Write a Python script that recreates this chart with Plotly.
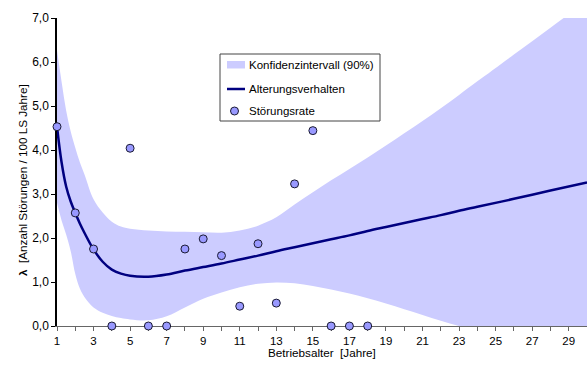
import plotly.graph_objects as go

# ---- data ----
ages = [1, 2, 3, 4, 5, 6, 7, 8, 9, 10, 11, 12, 13, 14, 15, 16, 17, 18]
rates = [4.53, 2.57, 1.75, 0.0, 4.04, 0.0, 0.0, 1.75, 1.98, 1.60, 0.45, 1.87, 0.52, 3.23, 4.44, 0.0, 0.0, 0.0]

grid = [1, 1.25, 1.5, 1.75, 2, 2.25, 2.5, 3, 3.5, 4, 4.5, 5, 6, 7, 8, 9, 10, 11, 12, 13, 14,
        15, 16, 17, 18, 19, 20, 21, 22, 23, 24, 26, 28, 30]
trend = [4.53, 3.72, 3.17, 2.83, 2.57, 2.33, 2.12, 1.74, 1.46, 1.28, 1.19, 1.14, 1.12, 1.17, 1.26, 1.34, 1.42,
         1.51, 1.60, 1.70, 1.79, 1.88, 1.97, 2.06, 2.16, 2.25, 2.34, 2.43, 2.52, 2.62, 2.71, 2.89, 3.08, 3.26]
upper = [6.27, 5.55, 4.90, 4.42, 4.05, 3.72, 3.45, 2.88, 2.58, 2.37, 2.26, 2.21, 2.17, 2.15, 2.14, 2.13, 2.12,
         2.17, 2.28, 2.47, 2.76, 3.04, 3.31, 3.57, 3.83, 4.10, 4.38, 4.66, 4.95, 5.25, 5.56, 6.17, 6.78, 7.39]
lower = [2.80, 2.40, 2.08, 1.70, 1.18, 0.85, 0.66, 0.42, 0.30, 0.23, 0.18, 0.15, 0.13, 0.22, 0.42, 0.62, 0.76,
         0.88, 0.96, 0.99, 0.97, 0.91, 0.83, 0.74, 0.63, 0.51, 0.38, 0.25, 0.12, 0.00, -0.13, -0.40, -0.67, -0.94]

x_ticks = list(range(1, 30, 2))
y_ticks = [0, 1, 2, 3, 4, 5, 6, 7]

BAND = "#CCCCFF"
LINE = "#000080"
DOT = "#9999FF"
FONT = "Liberation Sans, Arial, sans-serif"

fig = go.Figure()
fig.add_trace(go.Scatter(x=grid, y=upper, mode="lines", line=dict(width=0, shape="spline"),
                         showlegend=False, hoverinfo="skip"))
fig.add_trace(go.Scatter(x=grid, y=lower, mode="lines", line=dict(width=0, shape="spline"),
                         fill="tonexty", fillcolor=BAND, name="Konfidenzintervall (90%)",
                         showlegend=False, hoverinfo="skip"))
fig.add_trace(go.Scatter(x=grid, y=trend, mode="lines", line=dict(color=LINE, width=2.5, shape="spline"),
                         name="Alterungsverhalten", showlegend=False))
fig.add_trace(go.Scatter(x=ages, y=rates, mode="markers", cliponaxis=False,
                         marker=dict(size=8, color=DOT, line=dict(color="#1a1a33", width=1)),
                         name="Störungsrate", showlegend=False))

W, H = 587, 369
L, R, T, B = 57, 0, 18, 43
pw, ph = W - L - R, H - T - B


def px(xp):
    return (xp - L) / pw


def py(yp):
    return (H - B - yp) / ph


shapes = []
annotations = []
# legend box drawn by hand to match the reference layout
shapes.append(dict(type="rect", xref="paper", yref="paper", x0=px(220), x1=px(380), y0=py(121), y1=py(54),
                   line=dict(color="#444444", width=1), fillcolor="white", layer="above"))
shapes.append(dict(type="rect", xref="paper", yref="paper", x0=px(227), x1=px(245), y0=py(68.5), y1=py(61),
                   line=dict(width=0), fillcolor=BAND, layer="above"))
shapes.append(dict(type="line", xref="paper", yref="paper", x0=px(227), x1=px(245), y0=py(89), y1=py(89),
                   line=dict(color=LINE, width=2.5), layer="above"))
shapes.append(dict(type="circle", xref="paper", yref="paper", x0=px(230.5), x1=px(238.5), y0=py(115), y1=py(107),
                   line=dict(color="#1a1a33", width=1), fillcolor=DOT, layer="above"))
for label, yy in [("Konfidenzintervall (90%)", 65), ("Alterungsverhalten", 89), ("Störungsrate", 111)]:
    annotations.append(dict(text=label, xref="paper", yref="paper", x=px(247), y=py(yy), xanchor="left",
                            yanchor="middle", showarrow=False, font=dict(size=11.5, color="#000", family=FONT)))

annotations.append(dict(text="<b>λ</b>\u00a0 [Anzahl Störungen / 100 LS Jahre]", xref="paper", yref="paper",
                        x=px(22), y=py(180), textangle=-90, xanchor="center", yanchor="middle",
                        showarrow=False, font=dict(size=11.7, color="#000", family=FONT)))
annotations.append(dict(text="Betriebsalter\u00a0 [Jahre]", xref="paper", yref="paper",
                        x=px(322), y=py(352), xanchor="center", yanchor="middle",
                        showarrow=False, font=dict(size=11.7, color="#000", family=FONT)))

fig.update_layout(
    width=W, height=H, margin=dict(l=L, r=R, t=T, b=B, pad=0),
    paper_bgcolor="white", plot_bgcolor="white",
    separators=", ",
    font=dict(family=FONT, size=12, color="#000"),
    shapes=shapes, annotations=annotations,
    xaxis=dict(range=[1, 30], tickvals=x_ticks, ticks="outside", ticklen=4, tickcolor="#666666",
               showline=True, linecolor="#666666", linewidth=1, showgrid=False, zeroline=False,
               layer="below traces", tickfont=dict(size=11.5),
               minor=dict(dtick=1, tick0=1, ticks="outside", ticklen=4, tickcolor="#666666", showgrid=False)),
    yaxis=dict(range=[0, 7], tickvals=y_ticks, tickformat=".1f", ticks="outside", ticklen=4,
               tickcolor="#000000", showline=True, linecolor="#000000", linewidth=1.5, showgrid=False,
               zeroline=False, layer="below traces", tickfont=dict(size=12)),
)

fig.write_html("out.html", config={"displayModeBar": False},
               post_script="document.body.style.margin='0';document.body.style.overflow='hidden';")
